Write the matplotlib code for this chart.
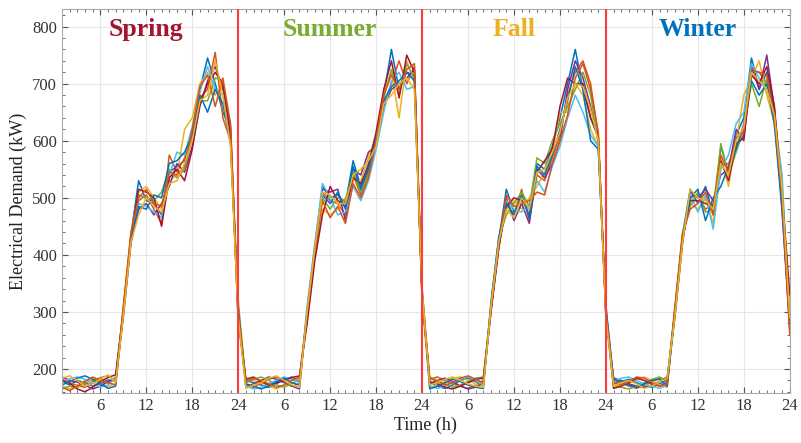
import matplotlib
matplotlib.use("Agg")
import matplotlib.pyplot as plt
import numpy as np
from matplotlib.ticker import MultipleLocator, FixedLocator

plt.rcParams["font.family"] = ["Liberation Serif", "DejaVu Serif"]

# hourly demand (kW), hours 1..24, one row per day
spring = [
    [178, 172, 180, 176, 170, 174, 181, 179, 305, 435, 530, 495, 490, 470, 545, 555, 565, 615, 690, 745, 700, 650, 620, 290],
    [182, 176, 171, 168, 177, 183, 175, 186, 295, 425, 495, 505, 480, 455, 575, 545, 570, 600, 675, 690, 755, 640, 600, 310],
    [170, 165, 172, 180, 184, 176, 169, 175, 310, 440, 510, 520, 500, 480, 530, 540, 620, 640, 700, 720, 680, 700, 615, 280],
    [186, 180, 177, 172, 165, 170, 178, 182, 290, 420, 480, 490, 470, 490, 520, 560, 545, 590, 660, 705, 730, 690, 625, 300],
    [165, 170, 168, 175, 180, 185, 188, 178, 300, 430, 505, 500, 495, 510, 550, 535, 550, 605, 670, 670, 710, 705, 605, 320],
    [175, 183, 186, 182, 176, 168, 172, 184, 298, 428, 490, 485, 475, 465, 540, 580, 575, 625, 685, 730, 690, 680, 600, 295],
    [180, 175, 165, 160, 168, 178, 185, 190, 302, 432, 515, 510, 500, 450, 535, 550, 530, 585, 665, 700, 720, 700, 610, 285],
    [172, 178, 184, 188, 182, 175, 166, 170, 296, 426, 485, 480, 505, 500, 560, 565, 580, 610, 680, 650, 690, 665, 595, 305],
    [168, 162, 170, 178, 186, 180, 176, 172, 308, 438, 500, 515, 490, 485, 545, 540, 555, 620, 695, 715, 660, 710, 630, 300],
    [184, 188, 180, 170, 174, 182, 190, 176, 292, 422, 470, 500, 485, 475, 525, 530, 560, 600, 670, 680, 740, 680, 590, 290],
]
summer = [
    [180, 176, 172, 168, 174, 182, 186, 178, 295, 410, 520, 500, 505, 490, 565, 520, 560, 605, 680, 760, 690, 720, 715, 330],
    [172, 168, 175, 182, 186, 178, 170, 174, 300, 405, 510, 495, 490, 470, 540, 505, 545, 595, 665, 700, 740, 700, 730, 340],
    [185, 180, 176, 170, 165, 172, 180, 184, 285, 395, 480, 470, 480, 500, 530, 530, 570, 610, 685, 720, 640, 740, 700, 320],
    [168, 174, 180, 186, 182, 176, 170, 165, 305, 415, 515, 510, 515, 460, 550, 540, 580, 590, 660, 690, 700, 710, 725, 335],
    [176, 182, 186, 180, 172, 168, 175, 181, 290, 400, 500, 480, 500, 495, 545, 510, 540, 600, 675, 725, 680, 735, 710, 325],
    [170, 165, 168, 175, 180, 186, 182, 176, 310, 420, 525, 500, 470, 475, 520, 495, 530, 585, 650, 705, 720, 690, 695, 345],
    [182, 186, 178, 172, 176, 180, 185, 188, 280, 390, 470, 520, 495, 485, 535, 525, 555, 615, 690, 740, 675, 750, 720, 330],
    [174, 170, 165, 170, 178, 184, 176, 172, 300, 410, 505, 490, 510, 480, 555, 515, 550, 605, 670, 695, 705, 720, 705, 335],
    [178, 184, 180, 174, 168, 172, 180, 186, 296, 408, 495, 465, 485, 455, 525, 500, 535, 600, 680, 715, 690, 725, 735, 320],
    [166, 172, 176, 184, 188, 180, 172, 168, 302, 412, 510, 505, 490, 490, 540, 550, 565, 590, 665, 680, 700, 710, 690, 340],
]
fall = [
    [176, 170, 166, 172, 180, 184, 178, 174, 310, 425, 515, 475, 500, 470, 560, 550, 590, 640, 700, 760, 690, 640, 605, 300],
    [182, 186, 180, 174, 170, 166, 172, 180, 305, 415, 490, 470, 515, 460, 540, 530, 570, 610, 680, 720, 740, 700, 610, 295],
    [168, 172, 178, 184, 186, 180, 174, 170, 315, 420, 480, 495, 480, 500, 520, 545, 580, 650, 650, 700, 680, 620, 590, 310],
    [174, 180, 184, 178, 170, 165, 168, 176, 300, 410, 500, 460, 490, 455, 550, 535, 560, 600, 690, 740, 710, 660, 600, 290],
    [186, 180, 174, 168, 172, 178, 184, 186, 312, 428, 470, 490, 510, 485, 570, 560, 600, 630, 660, 690, 720, 680, 595, 305],
    [170, 166, 170, 176, 182, 186, 180, 172, 308, 418, 495, 480, 475, 490, 530, 510, 555, 590, 640, 680, 650, 610, 590, 300],
    [178, 174, 168, 165, 170, 176, 182, 184, 302, 412, 485, 500, 495, 480, 545, 565, 585, 660, 710, 700, 700, 640, 610, 295],
    [165, 170, 176, 182, 178, 172, 168, 166, 318, 430, 490, 470, 505, 465, 555, 540, 575, 620, 670, 730, 690, 600, 585, 310],
    [184, 178, 172, 176, 184, 188, 182, 176, 306, 416, 505, 485, 490, 495, 510, 505, 560, 600, 645, 710, 735, 690, 615, 300],
    [172, 176, 182, 186, 180, 174, 170, 168, 310, 422, 480, 465, 500, 480, 545, 550, 580, 615, 675, 700, 695, 655, 600, 290],
]
winter = [
    [174, 178, 182, 176, 170, 168, 174, 180, 300, 435, 515, 490, 520, 470, 590, 545, 610, 640, 745, 690, 720, 650, 520, 290],
    [180, 176, 170, 166, 172, 178, 184, 182, 295, 425, 500, 505, 480, 490, 555, 560, 590, 610, 720, 720, 700, 640, 490, 275],
    [168, 172, 176, 182, 186, 180, 172, 168, 305, 430, 490, 480, 500, 455, 570, 520, 600, 680, 710, 740, 680, 630, 510, 300],
    [184, 180, 174, 170, 168, 172, 178, 186, 290, 420, 510, 500, 515, 495, 540, 550, 620, 600, 730, 690, 750, 655, 480, 265],
    [172, 168, 165, 170, 176, 182, 186, 178, 310, 440, 485, 510, 475, 480, 595, 540, 580, 620, 700, 660, 710, 625, 495, 285],
    [178, 184, 186, 180, 174, 170, 166, 172, 298, 428, 505, 475, 505, 445, 550, 575, 630, 650, 735, 710, 690, 645, 540, 270],
    [166, 170, 176, 184, 180, 174, 170, 176, 302, 432, 495, 495, 490, 485, 565, 530, 595, 605, 715, 700, 730, 660, 505, 330],
    [182, 178, 172, 168, 174, 180, 182, 170, 296, 426, 500, 515, 460, 500, 520, 555, 585, 630, 705, 680, 700, 630, 475, 280],
    [176, 172, 178, 186, 184, 176, 170, 174, 306, 436, 480, 490, 510, 470, 575, 545, 605, 615, 725, 720, 715, 640, 500, 260],
    [170, 176, 180, 174, 166, 170, 178, 184, 292, 422, 515, 500, 495, 480, 560, 540, 600, 625, 720, 705, 690, 645, 515, 290],
]

seasons = ["Spring", "Summer", "Fall", "Winter"]
season_colors = ["#A2142F", "#77AC30", "#EDB120", "#0072BD"]
line_colors = ["#0072BD", "#D95319", "#EDB120", "#7E2F8E", "#77AC30", "#4DBEEE", "#A2142F"]

hours = np.arange(1, 97)

fig = plt.figure(figsize=(8.01, 4.43), dpi=100)
ax = fig.add_axes([0.0774, 0.1129, 0.9086, 0.8657])

for i in range(len(spring)):
    y = spring[i] + summer[i] + fall[i] + winter[i]
    ax.plot(hours, y, color=line_colors[i % len(line_colors)], linewidth=1.1)

for b in [24, 48, 72]:
    ax.axvline(b, color="#FF3B3B", linewidth=1.5, zorder=5)

for k, name in enumerate(seasons):
    ax.text(12 + 24 * k, 795, name, color=season_colors[k], fontsize=18.5,
            fontweight="bold", ha="center", va="center")

ax.set_xlim(1, 96)
ax.set_ylim(158, 830)
xt = np.arange(6, 97, 6)
ax.xaxis.set_major_locator(FixedLocator(xt))
ax.set_xticklabels([str((t - 1) % 24 + 1) for t in xt])
ax.xaxis.set_minor_locator(MultipleLocator(1))
ax.yaxis.set_major_locator(MultipleLocator(100))
ax.yaxis.set_minor_locator(MultipleLocator(20))
ax.tick_params(which="both", direction="in", top=True, right=True,
               colors="#555555", labelcolor="#333333", labelsize=12)
ax.tick_params(which="major", length=4)
ax.tick_params(which="minor", length=2.5)
ax.grid(True, which="major", color="#E6E6E6", linewidth=0.8)
ax.set_axisbelow(True)
for s in ax.spines.values():
    s.set_color("#AAAAAA")
    s.set_linewidth(0.8)

ax.set_xlabel("Time (h)", fontsize=13, color="#222222", labelpad=2)
ax.set_ylabel("Electrical Demand (kW)", fontsize=13, color="#222222", labelpad=4)

fig.savefig("out.png", dpi=100)
